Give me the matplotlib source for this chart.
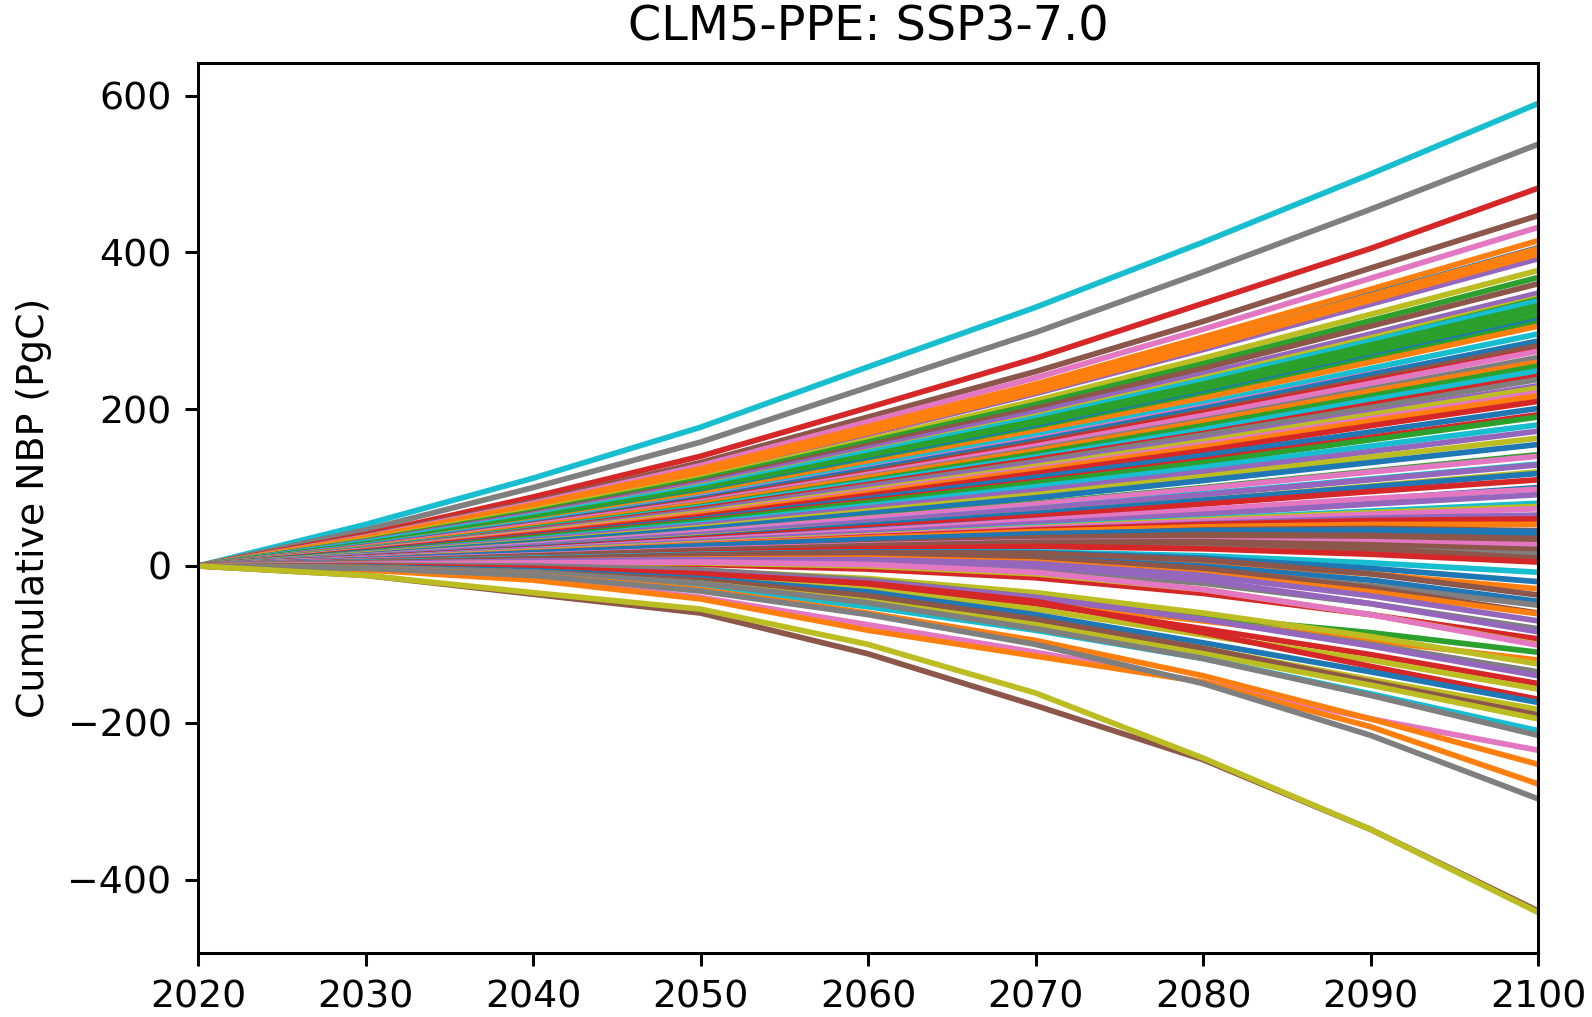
import matplotlib
matplotlib.use('Agg')
import matplotlib.pyplot as plt

years = [2020, 2030, 2040, 2050, 2060, 2070, 2080, 2090, 2100]

# upper members (cumulative NBP in PgC at each decade)
upper_members = [
    [0, 53, 112, 177, 254, 330, 413, 500, 590],
    [0, 46, 100, 158, 228, 298, 375, 455, 538],
    [0, 40, 88, 140, 202, 265, 335, 405, 482],
    [0, 38, 82, 132, 190, 248, 312, 380, 447],
    [0, 37, 80, 128, 184, 240, 302, 367, 432],
    [0, 36, 78, 124, 178, 232, 292, 353, 415],
    [0, 34, 75, 120, 172, 226, 284, 346, 406],
    [0, 35, 76, 121, 174, 227, 285, 345, 405],
    [0, 34, 73, 117, 168, 220, 276, 334, 392],
    [0, 35, 75, 119, 170, 222, 279, 339, 398],
    [0, 33, 71, 112, 161, 211, 265, 321, 377],
    [0, 32, 69, 110, 158, 206, 258, 313, 368],
    [0, 31, 67, 107, 154, 201, 252, 306, 360],
    [0, 30, 65, 103, 148, 194, 243, 295, 347],
    [0, 31, 66, 105, 150, 196, 245, 296, 348],
    [0, 29, 64, 102, 146, 191, 240, 291, 342],
    [0, 29, 63, 100, 144, 188, 236, 287, 340],
    [0, 29, 62, 99, 143, 187, 234, 284, 334],
    [0, 30, 64, 101, 145, 189, 237, 287, 338],
    [0, 28, 62, 98, 141, 185, 232, 282, 332],
    [0, 28, 61, 96, 139, 182, 228, 276, 325],
    [0, 27, 59, 94, 135, 178, 223, 270, 318],
    [0, 27, 58, 93, 134, 175, 219, 266, 313],
    [0, 27, 58, 92, 132, 173, 217, 264, 310],
    [0, 26, 57, 91, 131, 171, 214, 260, 306],
    [0, 26, 56, 88, 127, 166, 207, 252, 296],
    [0, 25, 54, 87, 124, 162, 203, 245, 285],
    [0, 25, 54, 86, 123, 160, 201, 244, 287],
    [0, 24, 53, 84, 120, 157, 197, 239, 281],
    [0, 24, 52, 83, 118, 155, 195, 236, 275],
    [0, 24, 52, 82, 117, 153, 192, 233, 274],
    [0, 23, 50, 80, 114, 149, 186, 226, 266],
    [0, 23, 50, 79, 113, 147, 184, 223, 260],
    [0, 22, 48, 76, 109, 143, 179, 217, 255],
    [0, 22, 47, 75, 107, 139, 174, 212, 249],
    [0, 21, 46, 73, 104, 136, 169, 206, 242],
    [0, 21, 45, 71, 102, 133, 167, 202, 238],
    [0, 20, 44, 70, 100, 130, 162, 196, 230],
    [0, 20, 43, 68, 97, 127, 159, 193, 227],
    [0, 20, 42, 66, 95, 124, 155, 188, 221],
    [0, 19, 41, 65, 93, 122, 152, 185, 217],
    [0, 19, 40, 63, 90, 118, 147, 179, 210],
    [0, 18, 38, 60, 86, 113, 141, 171, 201],
    [0, 17, 37, 58, 83, 108, 135, 164, 193],
    [0, 17, 36, 57, 81, 106, 132, 161, 190],
    [0, 16, 34, 54, 77, 101, 126, 153, 180],
    [0, 16, 33, 52, 74, 96, 120, 146, 172],
    [0, 15, 31, 49, 70, 91, 114, 139, 163],
    [0, 14, 30, 47, 67, 87, 109, 132, 155],
    [0, 13, 28, 43, 62, 80, 100, 121, 142],
    [0, 13, 27, 43, 61, 79, 99, 120, 140],
    [0, 12, 25, 40, 56, 73, 92, 111, 130],
    [0, 12, 25, 40, 56, 73, 91, 110, 129],
    [0, 11, 23, 37, 52, 67, 84, 102, 120],
    [0, 11, 23, 36, 52, 67, 84, 101, 118],
    [0, 11, 22, 35, 49, 63, 79, 95, 110],
    [0, 10, 21, 33, 46, 58, 71, 85, 100],
    [0, 10, 21, 33, 45, 58, 72, 86, 98],
    [0, 10, 20, 31, 42, 54, 66, 79, 91],
    [0, 9, 19, 29, 39, 50, 60, 70, 80],
    [0, 9, 19, 29, 39, 49, 59, 68, 76],
    [0, 9, 18, 28, 38, 48, 57, 66, 73],
]
upper_colors = ['C9', 'C7', 'C3', 'C5', 'C6', 'C1', 'C0', 'C1', 'C4', 'C1',
                'C8', 'C2', 'C5', 'C9', 'C4', 'C8', 'C2', 'C5', 'C9', 'C2',
                'C2', 'C2', 'C0', 'C2', 'C1', 'C9', 'C6', 'C0', 'C5', 'C3',
                'C6', 'C7', 'C1', 'C2', 'C9', 'C3', 'C7', 'C4', 'C8', 'C6',
                'C1', 'C3', 'C0', 'C3', 'C2', 'C9', 'C4', 'C8', 'C0', 'C2',
                'C6', 'C9', 'C4', 'C8', 'C0', 'C3', 'C0', 'C6', 'C4', 'C9',
                'C8', 'C6']

# members that level off and turn over near zero
middle_members = [
    [0, 8, 17, 27, 38, 48, 56, 60, 60],
    [0, 8, 17, 26, 36, 46, 54, 61, 65],
    [0, 8, 17, 27, 37, 46, 53, 58, 60],
    [0, 8, 18, 27, 36, 44, 50, 53, 53],
    [0, 6, 14, 22, 32, 40, 46, 48, 45],
    [0, 8, 17, 26, 34, 41, 45, 46, 44],
    [0, 7, 15, 23, 31, 37, 41, 42, 40],
    [0, 5, 12, 20, 28, 36, 40, 39, 35],
    [0, 5, 12, 20, 28, 35, 38, 36, 30],
    [0, 7, 14, 21, 27, 31, 32, 31, 27],
    [0, 6, 13, 20, 26, 30, 31, 27, 21],
    [0, 5, 11, 17, 22, 25, 24, 21, 15],
    [0, 5, 11, 18, 25, 30, 30, 22, 10],
    [0, 5, 10, 16, 22, 25, 22, 15, 5],
    [0, 5, 10, 15, 18, 18, 13, 4, -8],
    [0, 4, 9, 14, 18, 17, 10, -3, -20],
    [0, 4, 8, 12, 14, 12, 4, -10, -29],
    [0, 4, 9, 14, 17, 16, 8, -10, -37],
    [0, 3, 7, 11, 13, 10, 0, -18, -45],
    [0, 3, 7, 10, 11, 7, -5, -25, -50],
    [0, 3, 8, 12, 14, 10, -3, -28, -60],
    [0, 3, 6, 9, 10, 5, -10, -33, -61],
    [0, 3, 6, 8, 8, 3, -12, -38, -70],
    [0, 2, 4, 5, 3, -6, -22, -48, -80],
    [0, 3, 6, 8, 7, 0, -18, -48, -84],
    [0, 2, 3, 2, -4, -15, -35, -62, -93],
    [0, 2, 4, 4, 0, -10, -30, -62, -100],
    [0, 2, 4, 5, 2, -8, -30, -62, -101],
]
middle_colors = ['C6', 'C4', 'C3', 'C1', 'C5', 'C0', 'C0', 'C5', 'C5', 'C6',
                 'C5', 'C7', 'C5', 'C3', 'C9', 'C0', 'C1', 'C5', 'C0', 'C7',
                 'C5', 'C1', 'C4', 'C7', 'C4', 'C3', 'C8', 'C6']

# members with a declining sink
lower_members = [
    [0, -2, -5, -12, -25, -45, -65, -85, -110],
    [0, -2, -6, -14, -28, -46, -70, -95, -120],
    [0, 0, -2, -6, -16, -34, -60, -90, -125],
    [0, 1, 0, -5, -18, -40, -68, -100, -135],
    [0, -1, -3, -9, -20, -40, -68, -102, -140],
    [0, 0, -3, -10, -25, -48, -80, -113, -150],
    [0, -1, -5, -14, -30, -55, -88, -120, -157],
    [0, -1, -4, -10, -22, -45, -85, -128, -170],
    [0, -1, -6, -16, -33, -62, -98, -135, -174],
    [0, -2, -8, -20, -40, -70, -105, -145, -183],
    [0, -2, -8, -18, -38, -68, -105, -148, -190],
    [0, -3, -10, -22, -45, -75, -112, -152, -195],
    [0, -3, -11, -26, -52, -82, -118, -163, -210],
    [0, -2, -8, -22, -47, -80, -118, -165, -216],
    [0, -4, -16, -40, -75, -110, -148, -195, -235],
    [0, -3, -12, -30, -60, -95, -140, -195, -253],
    [0, -5, -18, -42, -82, -115, -148, -205, -278],
    [0, -3, -12, -32, -62, -100, -150, -216, -297],
    [0, -12, -36, -60, -112, -178, -247, -336, -440],
    [0, -12, -34, -55, -100, -162, -245, -336, -442],
]
lower_colors = ['C2', 'C1', 'C8', 'C7', 'C4', 'C3', 'C8', 'C3', 'C0', 'C8',
                'C5', 'C8', 'C9', 'C7', 'C6', 'C1', 'C1', 'C7', 'C5', 'C8']

fig = plt.figure(figsize=(1592 / 273, 1017 / 273), dpi=273)
ax = fig.add_subplot(111)
fig.subplots_adjust(left=0.1244, right=0.9661, top=0.938, bottom=0.063)

for members, colors in [(upper_members, upper_colors),
                        (middle_members, middle_colors),
                        (lower_members, lower_colors)]:
    for vals, c in zip(members, colors):
        ax.plot(years, vals, color=c)

ax.set_xlim(2020, 2100)
ax.set_xticks(years)
ax.set_ylabel('Cumulative NBP (PgC)')
ax.set_title('CLM5-PPE: SSP3-7.0', fontsize=12.6)

fig.savefig('out.png', dpi=273)
